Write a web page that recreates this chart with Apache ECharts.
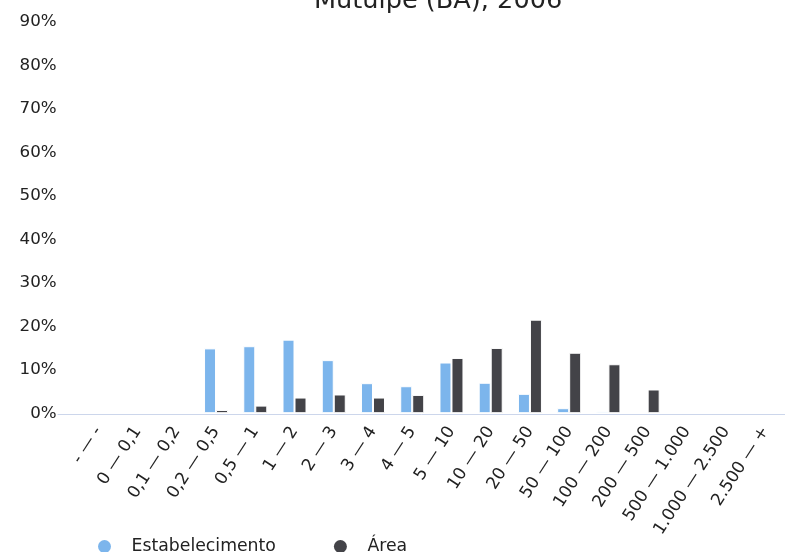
<!DOCTYPE html>
<html>
<head>
<meta charset="utf-8">
<script src="https://cdn.jsdelivr.net/npm/echarts@6/dist/echarts.min.js"></script>
<style>
html,body{margin:0;padding:0;background:#fff;}
#chart{width:785px;height:552px;}
</style>
</head>
<body>
<div id="chart"></div>
<script>
var titleText = 'Mutuípe (BA), 2006';
var categories = ['- — -','0 — 0,1','0,1 — 0,2','0,2 — 0,5','0,5 — 1','1 — 2','2 — 3','3 — 4','4 — 5','5 — 10','10 — 20','20 — 50','50 — 100','100 — 200','200 — 500','500 — 1.000','1.000 — 2.500','2.500 — +'];
var estabelecimento = [0, 0, 0, 14.9, 15.4, 16.9, 12.2, 6.9, 6.2, 11.65, 7.0, 4.45, 1.15, 0.4, 0, 0, 0, 0];
var area = [0, 0, 0, 0.75, 1.75, 3.6, 4.3, 3.6, 4.2, 12.7, 15.0, 21.5, 13.9, 11.25, 5.45, 0, 0, 0];
var seriesNames = ['Estabelecimento', 'Área'];
var yTickMax = 90, yTickStep = 10;

var FONT = '"DejaVu Sans", sans-serif';
var chart = echarts.init(document.getElementById('chart'), null, {renderer: 'canvas'});
chart.setOption({
  animation: false,
  title: {
    text: titleText,
    left: 309, top: -17,
    textStyle: {fontFamily: FONT, fontSize: 25.6, fontWeight: 'normal', color: '#222'}
  },
  legend: {
    left: 93, top: 533,
    icon: 'circle',
    itemWidth: 44, itemHeight: 13, itemGap: 58,
    itemStyle: {borderWidth: 0},
    textStyle: {fontFamily: FONT, fontSize: 17.3, color: '#222'},
    data: seriesNames
  },
  grid: [
    {left: 78.7, right: -7.7, top: 21.7, bottom: 138.8, containLabel: false},
    {left: 58, right: 0, top: 21.7, bottom: 138, containLabel: false}
  ],
  xAxis: [
    {
      type: 'category', gridIndex: 0, data: categories,
      axisLine: {show: false}, axisTick: {show: false},
      axisLabel: {rotate: 57, margin: 15, interval: 0, fontFamily: FONT, fontSize: 17, color: '#222'}
    },
    {
      type: 'value', gridIndex: 1, min: 0, max: 1, z: 5,
      axisLine: {show: true, onZero: false, lineStyle: {color: '#ccd6eb', width: 1}},
      axisTick: {show: false}, axisLabel: {show: false}, splitLine: {show: false}
    }
  ],
  yAxis: [
    {
      type: 'value', gridIndex: 0, min: 0, max: yTickMax, interval: yTickStep,
      axisLine: {show: false}, axisTick: {show: false}, splitLine: {show: false},
      axisLabel: {margin: 22, formatter: '{value}%', padding: [0, 0, 3.4, 0], fontFamily: FONT, fontSize: 16.7, color: '#222'}
    },
    {
      type: 'value', gridIndex: 1, min: 0, max: 1, show: false
    }
  ],
  series: [
    {
      name: seriesNames[0], type: 'bar', xAxisIndex: 0, yAxisIndex: 0,
      data: estabelecimento, barWidth: 12, barGap: '0%',
      itemStyle: {color: '#7cb5ec', borderColor: '#ffffff', borderWidth: 1}
    },
    {
      name: seriesNames[1], type: 'bar', xAxisIndex: 0, yAxisIndex: 0,
      data: area, barWidth: 12, barGap: '0%',
      itemStyle: {color: '#434348', borderColor: '#ffffff', borderWidth: 1}
    }
  ]
});
</script>
</body>
</html>
